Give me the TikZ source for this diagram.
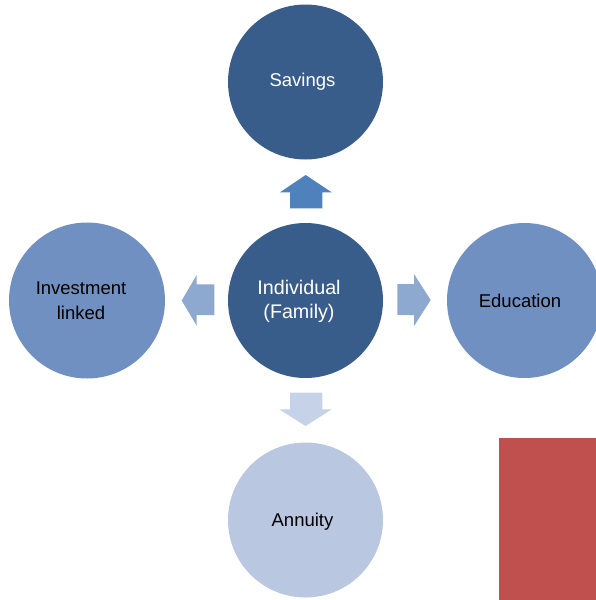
\documentclass[tikz,border=0pt]{standalone}
\usepackage{fontspec}
\setmainfont{Liberation Sans}
\definecolor{dkblue}{HTML}{395D8B}
\definecolor{midblue}{HTML}{6F90C0}
\definecolor{ltblue}{HTML}{B9C7E1}
\definecolor{uparr}{HTML}{4F81BD}
\definecolor{sidearr}{HTML}{8EA9D0}
\definecolor{downarr}{HTML}{C6D2E7}
\definecolor{redbox}{HTML}{C0504D}
\begin{document}
\begin{tikzpicture}[x=1pt,y=-1pt,
  circ/.style={circle,minimum size=155pt,inner sep=0pt,draw=none},
  lbl/.style={font=\fontsize{18.5}{24.5}\selectfont,align=center,inner sep=0pt}]
\useasboundingbox (0,0) rectangle (596,600);
% red block
\fill[redbox] (499,437.5) rectangle (596,600);
% circles
\node[circ,fill=dkblue] (sav) at (305.5,82) {};
\node[circ,fill=dkblue] (ind) at (305.5,300.5) {};
\node[circ,fill=midblue,minimum size=156pt] (inv) at (87,300.5) {};
\node[circ,fill=midblue] (edu) at (524.5,300.5) {};
\node[circ,fill=ltblue] (ann) at (305.5,520) {};
% labels
\node[lbl,text=white] at ([xshift=-3pt]sav.center) {Savings};
\node[lbl,text=white,font=\fontsize{19.7}{24.3}\selectfont] at ([xshift=-6.5pt,yshift=-1pt]ind.center) {Individual\\(Family)};
\node[lbl,text=black] at ([xshift=-6pt,yshift=0pt]inv.center) {Investment\\linked};
\node[lbl,text=black] at ([xshift=-4.5pt,yshift=-0.5pt]edu.center) {Education};
\node[lbl,text=black] at ([xshift=-3pt,yshift=-2pt]ann.center) {Annuity};
% arrows
\fill[uparr] (305.7,175) -- (331.7,192.3) -- (322.3,192.3) -- (322.3,208.3)
  -- (290,208.3) -- (290,192.3) -- (280,192.3) -- cycle;
\fill[sidearr] (181.7,300.5) -- (196.7,275) -- (196.7,284.3) -- (214.3,284.3)
  -- (214.3,315) -- (196.7,315) -- (196.7,325.7) -- cycle;
\fill[sidearr] (430.7,300) -- (414,274) -- (414,284) -- (397.3,284)
  -- (397.3,315) -- (414,315) -- (414,326) -- cycle;
\fill[downarr] (305.5,426) -- (331.7,409.3) -- (322.3,409.3) -- (322.3,392.7)
  -- (290,392.7) -- (290,409.3) -- (279.3,409.3) -- cycle;
\end{tikzpicture}
\end{document}
